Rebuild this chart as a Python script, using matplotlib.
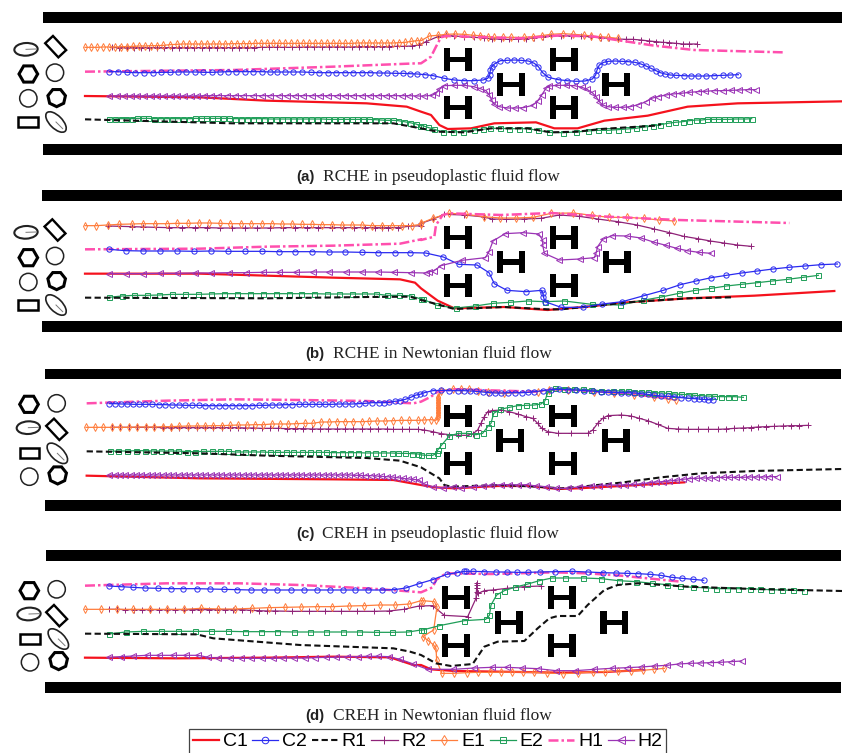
import matplotlib
matplotlib.use("Agg")
import numpy as np
import matplotlib.pyplot as plt
from matplotlib.lines import Line2D
from matplotlib.patches import Rectangle, Ellipse, RegularPolygon, Polygon

# Coordinates: x, y in 1/3 pixel units per panel.
# *_X/*_Y hold the left half of a channel, *_R the right half (x relative to the channel centre).

# ---------- panel (a)
A_E1_X = [255,273,292,310,328,346,364,382,400,418,436,454,472,490,510,530,548,566,584,602,620,640,658,676,694,712,730,748,766,784,802,820,838,856,874,892,910,928,946,964,982,1000,1018,1036,1054,1072,1090,1108,1126,1144,1162,1180,1198,1216,1234,1252]
A_E1_Y = [142,142,142,141,141,141,140,140,139,138,138,137,137,136,134,133,132,132,132,132,132,132,132,132,131,131,131,131,130,130,130,130,130,130,130,130,130,130,130,130,130,130,130,130,130,129,129,129,129,129,129,129,128,127,124,122]
A_E1_R = [(0,122),(25,108),(50,106),(75,103),(103,102),(130,103),(157,106),(178,107),(200,110),(220,112),(245,112),(270,112),(310,112),(335,110),(362,107),(390,103),(425,101),(457,103),(488,105),(510,108),(537,110),(562,112),(590,115)]
A_R2_X = [335,358,380,402,424,447,470,492,515,537,560,583,605,628,650,672,695,718,740,762,785,807,830,853,875,898,920,942,965,987,1010,1032,1055,1077,1100,1122,1145,1167,1190,1212,1235,1258]
A_R2_Y = [142,143,143,143,143,143,143,143,143,143,143,143,143,143,143,143,143,143,143,143,142,142,142,142,142,142,141,141,141,141,141,141,141,140,140,140,140,140,139,139,138,135]
A_R2_R = [(15,125),(50,110),(75,106),(100,108),(130,110),(160,112),(190,114),(213,116),(240,118),(265,118),(290,118),(315,116),(340,113),(365,110),(390,107),(420,107),(450,108),(480,109),(510,110),(540,113),(565,115),(590,117),(615,118),(635,118),(660,120),(685,123),(705,125),(725,127),(745,128),(765,130),(785,132),(805,132),(828,132)]
A_H1_X = [255,700,1000,1250]
A_H1_Y = [215,210,200,190]
A_H1_R = [(0,190),(30,170),(45,140),(60,112),(75,108),(300,115),(420,106),(520,110),(600,122),(700,137),(820,150),(1085,157)]
A_C2_X = [328,354,380,406,432,458,484,510,534,558,584,610,636,660,684,708,734,760,786,810,832,856,880,906,932,958,984,1008,1034,1060,1086,1110,1136,1160,1186,1208,1230,1252]
A_C2_Y = [215,215,217,218,218,218,217,217,216,216,216,217,217,216,215,215,215,215,215,216,216,216,216,216,217,218,218,218,218,218,218,218,219,219,220,220,221,222]
A_C2_R = [(12,224),(37,227),(70,235),(100,240),(130,242),(158,242),(186,240),(200,235),(206,225),(208,210),(212,200),(220,192),(238,182),(258,181),(280,180),(300,181),(322,183),(340,190),(352,200),(365,218),(382,232),(412,239),(438,242),(465,244),(492,243),(514,237),(524,225),(528,210),(535,195),(548,187),(562,184),(582,183),(602,184),(622,185),(642,187),(660,192),(675,198),(690,205),(705,212),(718,218),(732,222),(748,225),(765,226),(788,227),(810,228),(832,228),(855,228),(880,227),(905,226),(928,225),(952,224)]
A_H2_X = [328,350,372,392,412,432,452,472,492,512,532,552,572,592,612,632,655,680,705,730,760,785,810,838,862,885,910,935,960,985,1010,1035,1060,1085,1110,1135,1158,1180,1205,1228,1252]
A_H2_Y = [288,288,288,288,288,288,288,288,288,288,288,288,288,288,287,287,287,287,287,287,287,287,287,287,287,287,287,287,287,287,287,287,287,287,287,287,287,287,287,287,288]
A_H2_R = [(10,288),(33,286),(45,280),(55,268),(70,257),(100,256),(130,256),(158,260),(178,266),(195,272),(205,285),(212,300),(218,312),(235,320),(258,324),(283,324),(307,323),(335,316),(350,303),(362,285),(375,265),(385,258),(408,256),(435,256),(460,257),(483,262),(498,268),(514,278),(525,290),(535,305),(545,315),(560,320),(582,322),(605,322),(628,320),(652,314),(675,305),(692,295),(710,290),(735,285),(755,282),(780,280),(805,277),(830,275),(852,274),(878,272),(905,272),(930,271),(955,270),(980,269),(1005,269)]
A_C1_X = [255,600,800,1100,1220,1263]
A_C1_Y = [288,292,302,310,320,335]
A_C1_R = [(30,345),(55,375),(80,387),(150,385),(220,370),(345,367),(400,385),(470,385),(550,362),(680,347),(800,320),(950,310),(1263,304)]
A_R1_X = [255,400,700,1180,1263]
A_R1_Y = [358,362,370,370,385]
A_R1_R = [(50,395),(130,397),(210,385),(320,385),(390,397),(470,395),(540,387),(700,377),(720,373)]
A_E2_X = [328,345,362,378,395,412,428,445,462,480,498,515,532,550,568,585,602,618,636,652,670,688,705,722,740,758,775,792,810,828,845,862,880,898,915,932,950,968,985,1002,1020,1038,1055,1072,1090,1108,1125,1142,1160,1178,1195,1212,1230,1248,1260]
A_E2_Y = [358,357,356,356,356,355,355,355,356,356,356,356,356,356,356,355,355,355,355,355,355,355,356,356,356,356,356,356,357,357,357,357,357,357,357,357,357,357,358,358,358,358,358,358,358,358,359,360,361,361,362,365,368,372,377]
A_E2_R = [(5,377),(20,382),(40,388),(65,396),(97,396),(127,395),(160,390),(185,388),(208,385),(238,385),(265,386),(293,386),(320,386),(350,391),(385,397),(425,398),(465,396),(500,393),(530,391),(560,391),(590,389),(618,387),(645,385),(670,381),(695,378),(718,374),(740,370),(762,367),(785,365),(805,362),(825,360),(842,360),(858,358),(875,358),(892,358),(908,358),(925,358),(942,357),(958,357),(975,357),(992,356)]

# ---------- panel (b)
B_E1_X = [255,288,323,358,395,430,465,500,532,563,596,628,660,690,722,752,785,815,845,875,905,937,965,995,1025,1055,1085,1117,1147,1177,1205,1235,1263]
B_E1_Y = [122,122,120,118,117,116,116,116,115,115,114,114,115,116,116,116,116,116,117,117,118,118,119,119,120,120,120,122,122,122,122,122,118]
B_E1_R = [(0,115),(35,100),(85,85),(135,88),(188,95),(237,99),(285,99),(337,97),(390,85),(457,84),(513,91),(563,97),(617,97),(668,100),(714,105),(760,108)]
B_R2_X = [325,360,395,430,468,508,547,585,622,660,697,735,772,810,848,885,920,955,995,1030,1063,1095,1125,1145,1165,1195,1225,1263]
B_R2_Y = [123,124,125,126,127,128,128,128,128,129,129,129,129,129,128,128,128,128,128,128,128,128,128,128,128,128,124,122]
B_R2_R = [(0,115),(35,103),(70,88),(130,90),(190,96),(212,102),(256,103),(310,102),(360,100),(415,90),(475,94),(530,102),(590,110),(648,120),(700,132),(745,143),(788,154),(830,161),(868,168),(908,174),(948,180),(990,184)]
B_H1_X = [255,600,800,1000,1200,1263]
B_H1_Y = [193,191,185,182,176,163]
B_H1_R = [(0,165),(40,155),(45,120),(65,90),(85,85),(240,90),(390,84),(560,95),(770,105),(1105,114)]
B_C2_X = [328,377,430,480,532,583,634,685,736,786,837,886,936,986,1036,1085,1135,1184,1230]
B_C2_Y = [193,197,198,198,198,199,198,199,199,199,200,200,200,201,201,202,203,203,203]
B_C2_R = [(14,204),(67,216),(113,238),(168,240),(204,263),(220,296),(258,316),(315,320),(362,316),(366,325),(367,335),(372,350),(420,367),(485,367),(544,357),(604,350),(669,332),(727,316),(778,299),(825,288),(871,278),(916,271),(962,264),(1009,258),(1056,252),(1103,247),(1152,243),(1200,239),(1249,237)]
B_H2_X = [328,377,428,480,532,585,634,686,737,788,838,888,938,988,1038,1086,1135,1183,1232]
B_H2_Y = [266,266,266,265,265,264,264,263,263,262,262,262,261,261,261,261,261,262,263]
B_H2_R = [(14,264),(25,260),(38,258),(60,242),(123,226),(193,218),(204,200),(216,168),(252,146),(307,143),(353,147),(365,165),(365,180),(370,205),(415,225),(476,222),(520,218),(525,205),(530,185),(545,163),(573,152),(617,153),(660,159),(700,172),(735,181),(767,190),(798,197),(833,202),(870,205)]
B_C1_X = [255,600,1000,1200,1245,1263]
B_C1_Y = [266,266,278,283,293,310]
B_C1_R = [(50,347),(100,370),(250,366),(380,375),(500,365),(620,352),(800,340),(1000,332),(1240,318)]
B_R1_X = [255,800,1100,1230,1263]
B_R1_Y = [338,340,336,335,345]
B_R1_R = [(50,358),(100,372),(250,366),(380,373),(420,373),(500,365),(620,352),(800,340),(930,337)]
B_E2_X = [328,365,402,440,478,517,556,595,633,672,711,750,788,827,866,904,942,980,1018,1055,1091,1127,1162,1198,1234,1263]
B_E2_Y = [337,333,331,331,330,328,328,328,327,326,326,326,326,326,326,326,326,327,327,327,327,327,331,331,333,342]
B_E2_R = [(5,342),(47,361),(105,369),(163,363),(216,355),(266,352),(320,348),(373,350),(430,348),(512,358),(598,360),(665,346),(721,336),(774,325),(823,316),(871,310),(916,303),(962,298),(1009,293),(1054,288),(1100,283),(1146,277),(1192,271)]

# ---------- panel (c)
C_H1_X = [260,500,700,900,1100,1200,1240]
C_H1_Y = [130,122,118,120,123,128,130]
C_H1_R = [(0,125),(30,110),(50,95),(100,88),(350,95),(400,88),(560,95),(760,115)]
C_C2_X = [328,346,364,382,400,418,436,456,476,496,516,536,556,576,596,616,636,656,676,696,716,736,756,776,796,816,836,856,876,896,916,936,956,976,996,1016,1036,1056,1076,1096,1116,1136,1152,1168,1184,1200,1216,1232,1248,1260]
C_C2_Y = [131,131,132,132,133,133,133,133,134,134,135,135,136,136,136,137,137,137,137,137,137,137,137,136,136,135,135,134,134,133,133,133,133,133,133,132,132,132,131,130,128,128,128,127,124,122,118,112,105,103]
C_C2_R = [(10,98),(35,92),(60,91),(85,92),(110,92),(130,92),(148,93),(165,94),(185,96),(205,98),(222,99),(240,99),(262,98),(283,98),(303,98),(322,97),(340,95),(365,92),(390,89),(415,88),(440,89),(465,90),(490,92),(515,93),(540,96),(560,97),(580,97),(600,98),(620,98),(640,99),(660,101),(680,103),(700,106),(720,108),(740,109),(760,110),(780,113),(800,114),(820,116),(835,117),(850,118),(860,119),(875,120)]
C_E1_X = [258,284,310,335,360,387,412,438,463,488,513,538,564,590,615,640,665,690,715,740,765,790,815,840,865,889,914,938,963,987,1012,1036,1060,1085,1108,1132,1156,1180,1204,1228,1254]
C_E1_Y = [202,202,202,202,202,202,201,201,201,200,200,199,198,198,198,197,197,196,195,195,194,194,192,192,192,191,190,190,186,186,185,185,185,185,184,183,183,182,181,181,181]
C_E1_R = [(10,180),(30,179),(45,181),(50,170),(50,165),(50,160),(50,155),(50,150),(50,145),(50,140),(50,135),(50,130),(50,125),(50,120),(51,115),(52,110),(60,92),(95,87),(120,86),(145,88),(170,92),(200,95),(250,100),(350,95),(385,90),(440,90),(520,95),(580,100),(640,105),(700,112),(740,117),(765,121)]
C_R2_X = [335,360,387,412,438,463,488,513,538,564,590,615,640,665,690,715,735,760,785,810,835,860,885,910,935,960,985,1010,1035,1060,1085,1110,1135,1160,1180,1205,1228,1254]
C_R2_Y = [202,202,202,202,202,202,203,203,203,203,203,203,203,203,203,203,204,204,205,205,205,206,206,206,207,207,207,207,207,207,207,207,207,207,208,208,208,208]
C_R2_R = [(10,210),(35,215),(60,221),(85,224),(110,226),(135,226),(155,222),(170,210),(180,190),(190,170),(200,155),(212,152),(240,150),(265,155),(290,162),(315,170),(335,175),(350,190),(362,205),(380,215),(410,220),(450,220),(500,220),(515,210),(530,190),(545,175),(560,167),(600,165),(630,168),(655,175),(680,182),(710,193),(740,205),(770,207),(800,208),(830,208),(860,208),(890,208),(915,207),(940,205),(965,204),(990,203),(1010,201),(1035,200),(1060,199),(1085,198),(1110,197),(1135,197),(1160,196)]
C_E2_X = [330,355,380,408,435,458,483,510,535,560,585,610,635,660,685,710,735,760,785,810,832,857,880,905,930,953,977,1000,1025,1050,1075,1100,1125,1150,1175,1195,1215,1235,1255]
C_E2_Y = [274,273,273,272,272,273,273,273,273,275,275,274,274,274,274,276,276,276,276,277,277,277,277,277,277,277,277,278,278,278,278,279,279,279,279,280,280,281,282]
C_E2_R = [(0,285),(20,286),(35,286),(47,280),(50,270),(62,255),(85,228),(112,220),(140,220),(165,224),(185,220),(200,200),(210,190),(218,160),(238,148),(265,142),(290,137),(315,136),(340,135),(360,132),(372,122),(380,98),(403,85),(430,86),(458,87),(485,88),(510,90),(540,92),(575,92),(600,93),(620,94),(640,95),(660,96),(680,97),(700,98),(720,99),(740,100),(760,102),(780,103),(800,104),(820,106),(840,107),(860,108),(880,109),(900,110),(920,110),(940,110),(967,112)]
C_R1_X = [260,600,800,1100,1200,1263]
C_R1_Y = [274,280,287,294,302,322]
C_R1_R = [(30,340),(55,355),(70,375),(90,380),(240,375),(350,380),(420,385),(480,380),(600,368),(720,352),(840,340),(1000,333),(1263,327)]
C_C1_X = [260,600,1000,1180,1263]
C_C1_Y = [347,355,358,360,375]
C_C1_R = [(40,382),(100,385),(230,378),(330,378),(410,387),(470,385),(600,378),(790,367)]
C_H2_X = [328,344,360,376,392,408,424,440,456,472,488,504,520,536,552,568,584,600,616,632,648,664,680,696,712,728,744,760,776,792,808,824,840,856,872,888,904,920,936,952,968,984,1000,1016,1032,1048,1064,1080,1096,1112,1128,1144,1160,1176,1192,1208,1224,1240,1256]
C_H2_Y = [345,345,345,345,345,345,345,345,345,345,345,345,345,345,345,345,345,345,345,345,345,345,345,345,345,345,345,345,345,345,345,345,345,345,345,345,345,345,345,345,345,345,345,345,345,345,346,346,347,347,348,349,350,351,353,355,357,358,360]
C_H2_R = [(10,372),(35,380),(65,384),(95,380),(120,384),(155,380),(185,378),(210,376),(240,374),(265,374),(290,375),(318,374),(345,378),(375,380),(405,385),(440,385),(475,380),(510,379),(535,377),(560,375),(590,375),(612,375),(635,373),(660,372),(685,368),(705,366),(725,365),(745,363),(765,361),(785,358),(805,356),(825,355),(845,354),(865,354),(885,353),(905,352),(925,352),(945,352),(965,352),(985,351),(1005,351),(1025,351),(1045,350),(1068,350)]

# ---------- panel (d)
D_H1_X = [255,500,720,900,1100,1200,1263]
D_H1_Y = [137,130,130,135,145,152,157]
D_H1_R = [(35,142),(45,120),(75,100),(210,102),(400,97),(500,100),(600,107),(700,117),(780,125)]
D_C2_X = [326,362,398,435,474,512,550,590,630,671,712,752,793,832,872,912,951,990,1029,1066,1105,1145,1183,1217,1257]
D_C2_Y = [138,140,142,144,145,146,146,146,147,148,149,150,150,150,150,150,150,150,150,150,150,150,149,144,131]
D_C2_R = [(35,119),(77,103),(108,98),(130,94),(136,94),(157,94),(189,95),(225,96),(257,96),(289,97),(321,97),(356,96),(401,95),(452,94),(500,96),(545,98),(584,99),(618,100),(652,101),(687,103),(719,106),(752,112),(784,115),(816,118),(848,121)]
D_E1_X = [255,303,351,400,450,502,551,603,655,706,757,806,854,902,951,997,1046,1093,1139,1184,1228,1263]
D_E1_Y = [208,208,208,208,208,208,208,205,207,207,205,203,202,201,200,200,198,197,195,195,192,182]
D_E1_R = [(5,182),(40,185),(48,200),(38,270),(5,290),(22,302),(38,315),(45,325),(47,360),(62,400),(98,400),(138,398),(172,397),(207,397),(241,396),(273,396),(305,396),(338,397),(379,399),(425,401),(471,399),(515,396),(553,395),(592,393),(630,393),(665,391),(698,388),(730,385)]
D_R2_X = [326,351,376,401,425,450,476,501,526,551,576,601,627,652,676,700,726,751,776,801,826,876,926,974,1023,1072,1121,1167,1211,1257]
D_R2_Y = [208,208,209,209,209,209,209,209,209,209,209,209,209,209,209,209,209,211,212,213,213,214,214,214,214,214,214,213,208,198]
D_R2_R = [(0,198),(35,197),(70,226),(140,230),(165,175),(168,128),(168,135),(168,145),(168,155),(170,158),(172,160),(190,152),(215,150),(258,145),(310,140),(360,138)]
D_E2_X = [326,377,430,482,533,584,634,685,734,782,832,881,930,979,1028,1078,1128,1176,1225,1263]
D_E2_Y = [282,276,274,274,274,274,274,274,275,275,275,276,276,276,276,276,277,277,276,270]
D_E2_R = [(5,270),(55,257),(130,242),(194,238),(205,226),(210,195),(227,165),(250,152),(283,141),(317,133),(355,122),(393,114),(433,114),(486,114),(541,116),(593,122),(646,125),(694,130),(739,134),(778,139),(815,142),(852,143),(886,146),(919,146),(952,146),(986,146),(1017,148),(1049,149),(1082,150),(1116,151),(1150,152)]
D_R1_X = [255,590,640,900,1180,1230,1263]
D_R1_Y = [281,283,295,315,325,335,345]
D_R1_R = [(45,370),(90,378),(155,372),(190,320),(230,305),(310,303),(350,265),(385,235),(410,228),(470,228),(500,195),(550,150),(590,135),(650,130),(800,140),(1000,147),(1263,153)]
D_C1_X = [255,530,800,1000,1170,1240,1263]
D_C1_Y = [353,355,353,350,352,375,375]
D_C1_R = [(30,388),(100,393),(300,396),(420,398),(550,396),(670,390)]
D_H2_X = [326,362,400,440,478,518,557,594,625,655,690,722,754,786,818,850,882,914,946,978,1008,1040,1073,1105,1135,1167,1200,1240]
D_H2_Y = [352,350,348,346,346,346,346,346,352,354,355,355,355,355,355,354,354,354,353,352,352,350,350,349,349,350,358,372]
D_H2_R = [(20,388),(97,388),(160,384),(212,382),(258,382),(303,384),(350,386),(405,392),(463,392),(520,388),(572,385),(618,383),(660,381),(700,378),(738,376),(773,372),(806,370),(838,369),(868,368),(897,367),(930,365),(962,363)]

SERIES = ["C1", "C2", "R1", "R2", "E1", "E2", "H1", "H2"]
DRAW_ORDER = ["C1", "R2", "E1", "H1", "E2", "R1", "C2", "H2"]
STYLES = {
    "C1": dict(color="#f5121d", lw=1.6, ls="-"),
    "C2": dict(color="#2a2af0", lw=0.9, ls="-", marker="o", ms=3.8, mfc="none", mew=0.7),
    "R1": dict(color="#111111", lw=1.5, ls=(0, (3, 1.6))),
    "R2": dict(color="#8f2378", lw=0.9, ls="-", marker="+", ms=4.6, mew=0.7),
    "E1": dict(color="#ff7d3c", lw=0.9, ls="-", marker="d", ms=4.2, mfc="none", mew=0.7),
    "E2": dict(color="#1f9e58", lw=0.9, ls="-", marker="s", ms=3.6, mfc="none", mew=0.7),
    "H1": dict(color="#ff4fae", lw=1.8, ls=(0, (4, 1.2, 1, 1.2))),
    "H2": dict(color="#9a33b5", lw=0.9, ls="-", marker="<", ms=4.2, mfc="none", mew=0.7),
}

PANELS = ["A", "B", "C", "D"]
TOPS = dict(A=0, B=185, C=360, D=540)
HEIGHTS = dict(A=190, B=180, C=185, D=213)
BARS = dict(
    A=[(130, 37, 70), (130, 432, 465)],
    B=[(127, 16, 48), (127, 408, 440)],
    C=[(135, 26, 58), (135, 420, 452)],
    D=[(137, 29, 62), (134, 425, 458)],
)
RIGHT_END = dict(A=2526, B=2526, C=2523, D=2523)
HS = dict(
    A=[(1373,178),(1691,178),(1533,253),(1849,253),(1373,322),(1691,322)],
    B=[(1373,158),(1691,158),(1533,231),(1850,231),(1373,302),(1691,302)],
    C=[(1373,168),(1689,168),(1531,241),(1847,241),(1373,311),(1689,311)],
    D=[(1368,173),(1685,173),(1526,248),(1843,248),(1368,317),(1685,317)],
)
GLYPHS = dict(
    A=[("ell",78,148),("dia",167,140),("hex",85,222),("cir",165,218),("cir",85,295),("hep",170,293),("rec",84,366),("tilt",168,366)],
    B=[("ell",78,142),("dia",165,135),("hex",85,218),("cir",165,213),("cir",85,291),("hep",170,287),("rec",84,360),("tilt",168,360)],
    C=[("hex",87,133),("cir",170,130),("ell",85,203),("dia",170,208),("rec",88,279),("tilt",172,280),("cir",88,350),("hep",173,345)],
    D=[("hex",88,152),("cir",170,148),("ell",87,222),("dia",170,227),("rec",90,298),("tilt",175,297),("cir",90,367),("hep",176,362)],
)
CAPTIONS = dict(
    A=("(a)", 890, 968, 531, "RCHE in pseudoplastic fluid flow"),
    B=("(b)", 917, 998, 507, "RCHE in Newtonian fluid flow"),
    C=("(c)", 890, 965, 523, "CREH in pseudoplastic fluid flow"),
    D=("(d)", 917, 998, 527, "CREH in Newtonian fluid flow"),
)
CENTRE = 1263
NS = globals()

fig = plt.figure(figsize=(8.42, 7.53), dpi=100, facecolor="white")


def add_h(ax, cx, cy):
    hw, hh, stem, bar = 42, 34, 19, 16
    ax.add_patch(Rectangle((cx - hw, cy - hh), stem, 2 * hh, fc="black", ec="none"))
    ax.add_patch(Rectangle((cx + hw - stem, cy - hh), stem, 2 * hh, fc="black", ec="none"))
    ax.add_patch(Rectangle((cx - hw, cy - bar / 2), 2 * hw, bar, fc="black", ec="none"))


def rotated_rect(cx, cy, length, width, deg):
    a = np.deg2rad(deg)
    u = np.array([np.cos(a), np.sin(a)]) * length / 2
    v = np.array([-np.sin(a), np.cos(a)]) * width / 2
    c = np.array([cx, cy])
    return [c + u + v, c + u - v, c - u - v, c - u + v]


def add_glyph(ax, kind, x, y):
    if kind == "ell":
        ax.add_patch(Ellipse((x, y), 70, 38, angle=-3, fc="none", ec="#222222", lw=1.5))
        ax.plot([x, x + 30], [y, y - 1], color="#777777", lw=0.7)
    elif kind == "tilt":
        ax.add_patch(Ellipse((x, y), 78, 38, angle=45, fc="none", ec="#222222", lw=1.2))
        ax.plot([x, x + 20], [y, y + 20], color="#777777", lw=0.7)
    elif kind == "dia":
        ax.add_patch(Polygon(rotated_rect(x, y, 58, 32, 47), closed=True, fc="none", ec="black", lw=1.7))
    elif kind == "rec":
        ax.add_patch(Rectangle((x - 29, y - 15), 58, 30, fc="none", ec="black", lw=1.8))
    elif kind == "cir":
        ax.add_patch(Ellipse((x, y), 52, 52, fc="none", ec="#222222", lw=1.1))
    elif kind == "hex":
        ax.add_patch(RegularPolygon((x, y), 6, radius=28, orientation=np.pi / 6, fc="none", ec="black", lw=2.2))
    elif kind == "hep":
        ax.add_patch(RegularPolygon((x, y), 7, radius=27, fc="none", ec="black", lw=2.2))


for p in PANELS:
    top, h = TOPS[p], HEIGHTS[p]
    ax = fig.add_axes([0, 1 - (top + h) / 753, 1, h / 753])
    ax.set_xlim(0, 2526)
    ax.set_ylim(3 * h, 0)
    ax.axis("off")
    for x0, y0, y1 in BARS[p]:
        ax.add_patch(Rectangle((x0, y0), RIGHT_END[p] - x0, y1 - y0, fc="black", ec="none"))
    for cx, cy in HS[p]:
        add_h(ax, cx, cy)
    for kind, gx, gy in GLYPHS[p]:
        add_glyph(ax, kind, gx, gy)
    for z, s in enumerate(DRAW_ORDER):
        xl = NS[f"{p}_{s}_X"]
        yl = NS[f"{p}_{s}_Y"]
        right = NS[f"{p}_{s}_R"]
        xs = list(xl)[: len(yl)] + [CENTRE + a for a, _ in right]
        ys = list(yl)[: len(xl)] + [b for _, b in right]
        ax.plot(xs, ys, zorder=3 + z * 0.1, clip_on=False, **STYLES[s])
    tag, xa, xb, yc, text = CAPTIONS[p]
    ax.text(xa, yc, tag, family="Liberation Sans", weight="bold", fontsize=10.8, va="center", ha="left", color="#222222")
    ax.text(xb, yc, text, family="Liberation Serif", fontsize=12.5, va="center", ha="left", color="#222222")

handles = []
for s in SERIES:
    st = dict(STYLES[s])
    if "ms" in st:
        st["ms"] = st["ms"] * 1.25
    handles.append(Line2D([], [], label=s, **st))
leg = fig.legend(
    handles=handles, ncol=8, loc="upper left", bbox_to_anchor=(189 / 842, 1 - 729 / 753), bbox_transform=fig.transFigure,
    prop=dict(family="Liberation Sans", size=14), frameon=True, fancybox=False, edgecolor="#444444", framealpha=1,
    handlelength=1.34, handletextpad=0.2, columnspacing=0.24, borderpad=0.2, borderaxespad=0,
)
leg.get_frame().set_linewidth(0.9)

fig.savefig("out.png", dpi=100)
